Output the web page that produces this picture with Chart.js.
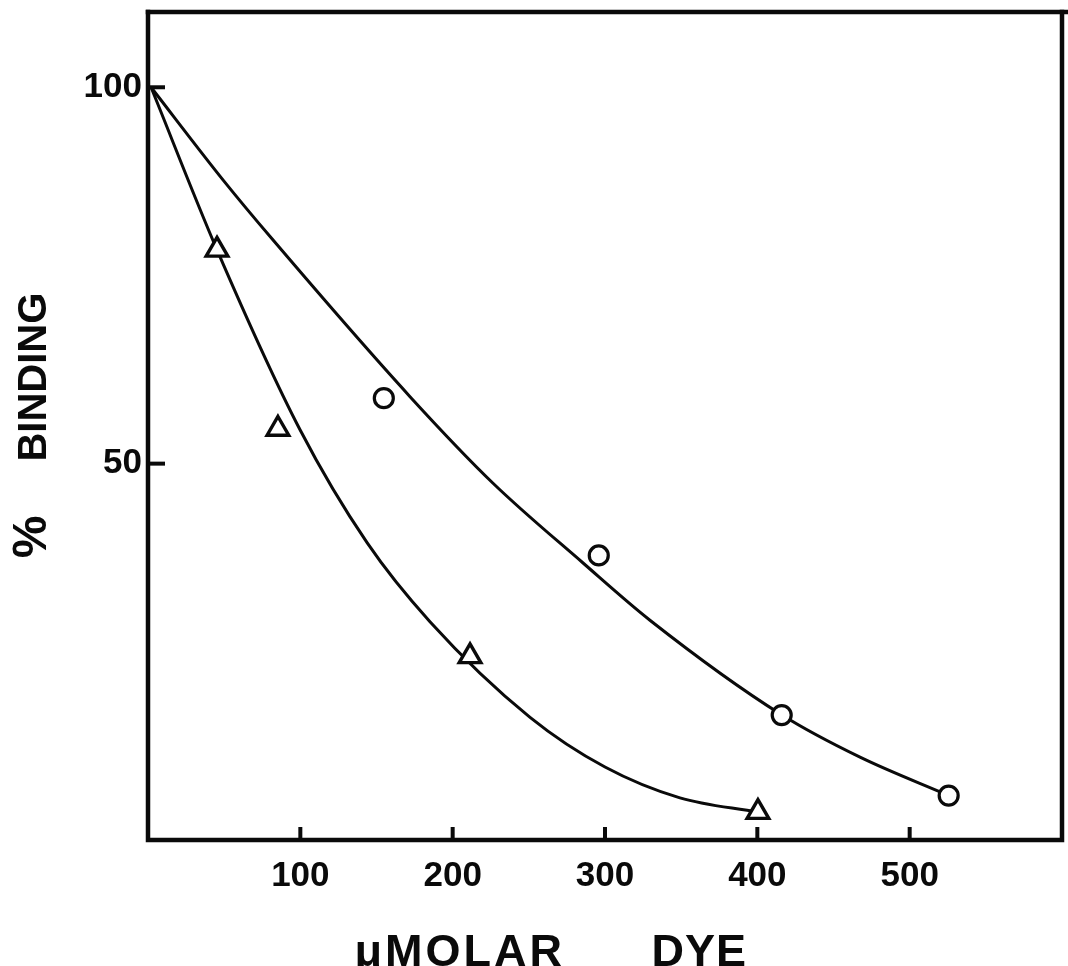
<!DOCTYPE html>
<html>
<head>
<meta charset="utf-8">
<script src="https://cdn.jsdelivr.net/npm/chart.js@4"></script>
<style>
  html, body { margin: 0; padding: 0; background: #fff; }
  #wrap { width: 1068px; height: 966px; }
</style>
</head>
<body>
<div id="wrap"><canvas id="c" width="1068" height="966"></canvas></div>
<script>
// Dye concentration (µM) vs. % binding
const circleX = [154.8, 295.9, 416.0, 525.6];
const circleY = [58.7, 37.8, 16.6, 5.9];

const triangleX = [45.3, 85.3, 211.4, 400.4];
const triangleY = [78.4, 54.6, 24.4, 3.7];

// Smooth curves drawn through the points
const upperCurveX = [2, 49.2, 82.1, 172, 226.5, 285.6, 329.5, 416.2, 467.4, 525.6];
const upperCurveY = [100, 87.7, 79.7, 58.9, 47.4, 36.8, 29.2, 16.6, 11.0, 5.9];

const lowerCurveX = [2, 45.3, 99.8, 143.8, 185.1, 250.8, 300, 349.2, 400.4];
const lowerCurveY = [100, 78.4, 54.5, 39.5, 29.0, 16.3, 9.7, 5.6, 3.7];

const xTickValues = [100, 200, 300, 400, 500];
const yTickValues = [50, 100];

const xTitleUnit = 'μMOLAR';
const xTitleWord = 'DYE';
const yTitleSymbol = '%';
const yTitleWord = 'BINDING';

const pts = (xs, ys) => xs.map((x, i) => ({ x, y: ys[i] }));

const INK = '#0a0a0a';
const FAMILY = "'Liberation Sans', Arial, sans-serif";
const tickFont = { family: FAMILY, size: 35, weight: 'bold' };

// Frame, inward tick marks and axis titles
const framePlugin = {
  id: 'frame',
  afterDraw(chart) {
    const { ctx, chartArea: a, scales } = chart;
    const w = a.right - a.left, h = a.bottom - a.top;
    ctx.save();
    ctx.strokeStyle = INK;
    ctx.lineCap = 'square';
    ctx.lineWidth = 4.5;
    ctx.beginPath();
    ctx.moveTo(a.left, a.top);
    ctx.lineTo(chart.width, a.top);
    ctx.stroke();
    ctx.beginPath();
    ctx.moveTo(a.left, a.top);
    ctx.lineTo(a.left, a.bottom);
    ctx.lineTo(a.right, a.bottom);
    ctx.lineTo(a.right, a.top);
    ctx.stroke();

    ctx.lineWidth = 4;
    ctx.lineCap = 'butt';
    yTickValues.forEach(v => {
      const y = scales.y.getPixelForValue(v);
      ctx.beginPath();
      ctx.moveTo(a.left, y);
      ctx.lineTo(a.left + 17, y);
      ctx.stroke();
    });
    xTickValues.forEach(v => {
      const x = scales.x.getPixelForValue(v);
      ctx.beginPath();
      ctx.moveTo(x, a.bottom);
      ctx.lineTo(x, a.bottom - 13);
      ctx.stroke();
    });

    ctx.fillStyle = INK;
    ctx.textAlign = 'center';
    ctx.textBaseline = 'alphabetic';
    ctx.font = 'bold 45px ' + FAMILY;
    ctx.letterSpacing = '3px';
    ctx.fillText(xTitleUnit, a.left + w * 0.341, chart.height);
    ctx.letterSpacing = '1px';
    ctx.fillText(xTitleWord, a.left + w * 0.603, chart.height);
    ctx.letterSpacing = '0px';

    ctx.translate(46, 0);
    ctx.rotate(-Math.PI / 2);
    ctx.font = 'bold 40px ' + FAMILY;
    ctx.fillText(yTitleWord, -(a.top + h * 0.441), 0);
    ctx.font = 'bold 48px ' + FAMILY;
    ctx.fillText(yTitleSymbol, -(a.top + h * 0.634), 0);
    ctx.restore();
  }
};

new Chart(document.getElementById('c'), {
  type: 'line',
  data: {
    datasets: [
      {
        label: 'circles',
        data: pts(circleX, circleY),
        showLine: false,
        pointStyle: 'circle',
        pointRadius: 9.5,
        pointBorderWidth: 3.2,
        pointBorderColor: INK,
        pointBackgroundColor: '#fff',
        order: 0
      },
      {
        label: 'triangles',
        data: pts(triangleX, triangleY),
        showLine: false,
        pointStyle: 'triangle',
        pointRadius: 12.5,
        pointBorderWidth: 3.4,
        pointBorderColor: INK,
        pointBackgroundColor: '#fff',
        order: 0
      },
      {
        label: 'upper curve',
        data: pts(upperCurveX, upperCurveY),
        borderColor: INK,
        borderWidth: 3,
        pointRadius: 0,
        cubicInterpolationMode: 'monotone',
        fill: false,
        order: 1
      },
      {
        label: 'lower curve',
        data: pts(lowerCurveX, lowerCurveY),
        borderColor: INK,
        borderWidth: 3,
        pointRadius: 0,
        cubicInterpolationMode: 'monotone',
        fill: false,
        order: 1
      }
    ]
  },
  options: {
    responsive: false,
    devicePixelRatio: 1,
    animation: false,
    layout: { autoPadding: false, padding: { top: 12, right: 6, left: 0, bottom: 0 } },
    plugins: { legend: { display: false }, tooltip: { enabled: false } },
    scales: {
      x: {
        type: 'linear',
        min: 0,
        max: 600,
        grid: { display: false, drawTicks: false },
        border: { display: false },
        afterBuildTicks: s => { s.ticks = xTickValues.map(v => ({ value: v })); },
        afterFit: s => { s.height = 126; s.paddingLeft = 0; s.paddingRight = 0; },
        ticks: { color: INK, font: tickFont, padding: 15, autoSkip: false, maxRotation: 0 }
      },
      y: {
        type: 'linear',
        min: 0,
        max: 110,
        grid: { display: false, drawTicks: false },
        border: { display: false },
        afterBuildTicks: s => { s.ticks = yTickValues.map(v => ({ value: v })); },
        afterFit: s => { s.width = 148; s.paddingTop = 0; s.paddingBottom = 0; },
        ticks: { color: INK, font: tickFont, padding: 6, autoSkip: false }
      }
    }
  },
  plugins: [framePlugin]
});
</script>
</body>
</html>
